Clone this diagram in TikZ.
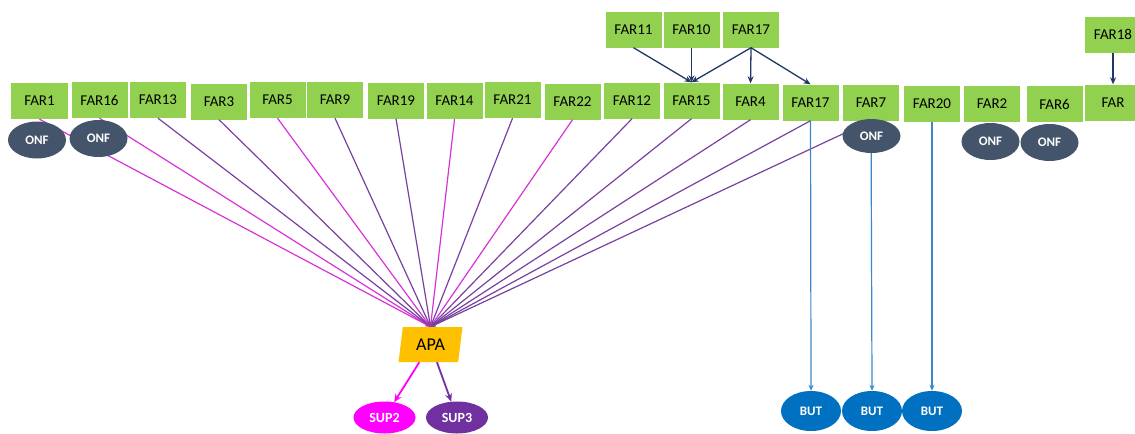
\documentclass[tikz,border=0pt]{standalone}
\usepackage{fontspec}
\setmainfont{Carlito}
\usetikzlibrary{shapes.geometric,arrows.meta}
\definecolor{fargreen}{RGB}{146,208,80}
\definecolor{onfgrey}{RGB}{68,84,106}
\definecolor{apaorange}{RGB}{255,192,0}
\definecolor{supmagenta}{RGB}{255,0,255}
\definecolor{suppurple}{RGB}{112,48,160}
\definecolor{butblue}{RGB}{0,112,192}
\definecolor{linkmagenta}{RGB}{215,50,215}
\definecolor{linkpurple}{RGB}{120,65,160}
\definecolor{linkblue}{RGB}{60,135,200}
\definecolor{linknavy}{RGB}{31,56,100}
\begin{document}
\begin{tikzpicture}[scale=0.35146]
\tikzstyle{every node}+=[inner sep=0pt]
\tikzstyle{farbox}=[rectangle, fill=fargreen, minimum width=56pt, minimum height=36pt, font=\fontsize{15}{17}\selectfont]
\tikzstyle{onf}=[ellipse, fill=onfgrey, text=white, minimum width=58pt, minimum height=37pt, font=\fontsize{13}{15}\selectfont\bfseries]
\tikzstyle{but}=[ellipse, fill=butblue, text=white, minimum width=60pt, minimum height=40pt, font=\fontsize{13}{15}\selectfont\bfseries]
\tikzstyle{sup}=[ellipse, text=white, minimum width=62pt, minimum height=32pt, font=\fontsize{14}{16}\selectfont\bfseries]
\tikzstyle{tomag}=[draw=linkmagenta, line width=1.2pt, -{Stealth[length=5pt,width=4pt]}]
\tikzstyle{topur}=[draw=linkpurple, line width=1.2pt, -{Stealth[length=5pt,width=4pt]}]
\tikzstyle{toblue}=[draw=linkblue, line width=1.2pt, -{Stealth[length=6pt,width=5pt]}]
\tikzstyle{tonavy}=[draw=linknavy, line width=1.3pt, -{Stealth[length=7pt,width=6pt]}]
\useasboundingbox (0,0) rectangle (113.5,-43.3);
\node [farbox] (far11) at (63.35,-2.95) {FAR11};
\node [farbox] (far10) at (69.15,-2.95) {FAR10};
\node [farbox] (far17a) at (75.1,-2.95) {FAR17};
\node [farbox] (far18) at (111.3,-3.45) {FAR18};
\node [farbox] (far1) at (3.95,-10.1) {FAR1};
\node [farbox] (far16) at (9.95,-10.0) {FAR16};
\node [farbox] (far13) at (15.8,-10.0) {FAR13};
\node [farbox] (far3) at (21.9,-10.15) {FAR3};
\node [farbox] (far5) at (27.75,-10.0) {FAR5};
\node [farbox] (far9) at (33.5,-10.0) {FAR9};
\node [farbox] (far19) at (39.6,-10.05) {FAR19};
\node [farbox] (far14) at (45.45,-10.1) {FAR14};
\node [farbox] (far21) at (51.25,-10.0) {FAR21};
\node [farbox] (far22) at (57.25,-10.15) {FAR22};
\node [farbox] (far12) at (63.2,-10.05) {FAR12};
\node [farbox] (far15) at (69.15,-10.05) {FAR15};
\node [farbox] (far4) at (75.05,-10.15) {FAR4};
\node [farbox] (far17b) at (81.05,-10.25) {FAR17};
\node [farbox] (far7) at (87.1,-10.25) {FAR7};
\node [farbox] (far20) at (93.2,-10.4) {FAR20};
\node [farbox] (far2) at (99.2,-10.35) {FAR2};
\node [farbox] (far6) at (105.45,-10.4) {FAR6};
\node [farbox] (far) at (111.3,-10.25) {FAR};
\node [trapezium, trapezium left angle=79, trapezium right angle=101, trapezium stretches=true, fill=apaorange, minimum width=64pt, minimum height=35pt, font=\fontsize{18}{20}\selectfont] (apa) at (43.05,-34.45) {APA};
\node [sup, fill=supmagenta] (sup2) at (38.45,-41.75) {SUP2};
\node [sup, fill=suppurple] (sup3) at (45.7,-41.75) {SUP3};
\node [but] (but1) at (81.1,-41.1) {BUT};
\node [but] (but2) at (87.2,-41.1) {BUT};
\node [but] (but3) at (93.2,-41.1) {BUT};
\draw [tonavy] (far11.south) -- (far15.north);
\draw [tonavy] (far10.south) -- (far15.north);
\draw [tonavy] (far17a.south) -- (far15.north);
\draw [tonavy] (far17a.south) -- (far4.north);
\draw [tonavy] (far17a.south) -- (far17b.north);
\draw [tonavy] (far18.south) -- (far.north);
\draw [tomag] (far1.south) -- (apa.north);
\draw [tomag] (far16.south) -- (apa.north);
\draw [topur] (far13.south) -- (apa.north);
\draw [topur] (far3.south) -- (apa.north);
\draw [tomag] (far5.south) -- (apa.north);
\draw [topur] (far9.south) -- (apa.north);
\draw [topur] (far19.south) -- (apa.north);
\draw [tomag] (far14.south) -- (apa.north);
\draw [topur] (far21.south) -- (apa.north);
\draw [tomag] (far22.south) -- (apa.north);
\draw [topur] (far12.south) -- (apa.north);
\draw [topur] (far15.south) -- (apa.north);
\draw [topur] (far4.south) -- (apa.north);
\draw [topur] (far17b.south) -- (apa.north);
\draw [topur] (far7.south) -- (apa.north);
\draw [toblue] (far17b.south) -- (but1.north);
\draw [toblue] (far7.south) -- (but2.north);
\draw [toblue] (far20.south) -- (but3.north);
\draw [draw=supmagenta, line width=1.8pt, -{Stealth[length=8pt,width=7pt]}] (apa) -- (sup2);
\draw [draw=suppurple, line width=1.8pt, -{Stealth[length=8pt,width=7pt]}] (apa) -- (sup3);
\node [onf] (onf1) at (3.7,-14.0) {ONF};
\node [onf] (onf16) at (9.85,-13.85) {ONF};
\node [onf, minimum height=34pt] (onf7) at (87.15,-13.6) {ONF};
\node [onf] (onf2) at (99.05,-14.15) {ONF};
\node [onf] (onf6) at (104.95,-14.25) {ONF};
\end{tikzpicture}
\end{document}
